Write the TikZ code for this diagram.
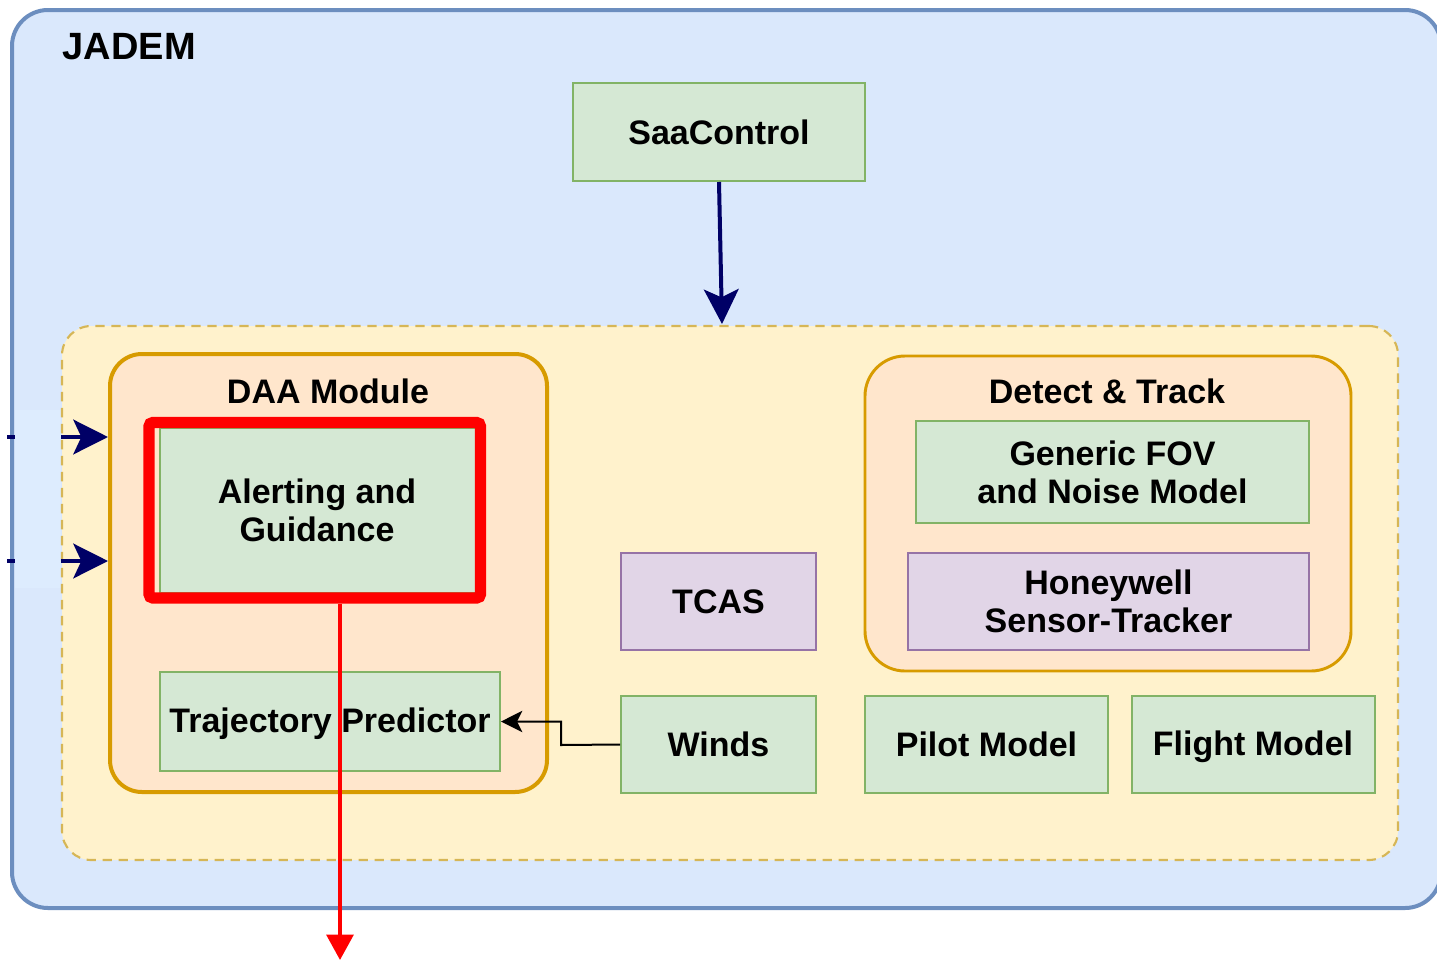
\documentclass[tikz,border=0pt]{standalone}
\usepackage{fontspec}
\setmainfont{Liberation Sans}
\usetikzlibrary{arrows.meta,fit}

\definecolor{outerfill}{HTML}{DAE8FC}
\definecolor{outerline}{HTML}{6C8EBF}
\definecolor{paleblue}{HTML}{DDECFE}
\definecolor{simfill}{HTML}{FFF2CC}
\definecolor{simline}{HTML}{D6B656}
\definecolor{modfill}{HTML}{FFE6CC}
\definecolor{modline}{HTML}{D79B00}
\definecolor{compfill}{HTML}{D5E8D4}
\definecolor{compline}{HTML}{82B366}
\definecolor{extfill}{HTML}{E1D5E7}
\definecolor{extline}{HTML}{9673A6}
\definecolor{navy}{HTML}{000066}

\tikzset{
  lbl/.style={font=\fontsize{25.5}{28.5}\selectfont\bfseries, align=center},
  comp/.style={lbl, draw=compline, fill=compfill, line width=1.5pt, inner sep=0pt},
  ext/.style={lbl, draw=extline, fill=extfill, line width=1.5pt, inner sep=0pt},
  module/.style={draw=modline, fill=modfill, line width=3pt, rounded corners=24pt, inner sep=0pt},
  feed/.style={navy, line width=3pt, -{Stealth[length=26pt, width=26pt, inset=6pt]}},
}

\begin{document}
\begin{tikzpicture}[x=0.75pt, y=-0.75pt]
\useasboundingbox (0,0) rectangle (1437,960);

% outer simulation frame
\node[draw=outerline, fill=outerfill, line width=3pt, rounded corners=27pt,
      inner sep=0pt, fit={(12,10) (1441,908)}] (jadem) {};
\node[font=\fontsize{28.5}{32}\selectfont\bfseries, anchor=west] (jadt) at (58,47) {JADEM};

% incoming links on the left edge
\coordinate (inA) at (7,437);
\coordinate (inAe) at (15,437);
\coordinate (inB) at (7,561);
\coordinate (inBe) at (15,561);
\draw[navy, line width=3.2pt] (inA) -- (inAe);
\draw[navy, line width=3.2pt] (inB) -- (inBe);
\node[fill=paleblue, inner sep=0pt, fit={(15,410) (61,588)}] (gap) {};

% inner dashed container
\node[draw=simline, fill=simfill, line width=1.6pt, dash pattern=on 7pt off 5pt,
      rounded corners=22pt, inner sep=0pt, fit={(62,326) (1398,860)}] (sim) {};

% SaaControl
\node[comp, fit={(573,83) (865,181)}] (saa) {};
\node[lbl] at (saa.center) {SaaControl};

% DAA module
\node[module, fit={(110,354) (547,792)}] (daa) {};
\node[lbl] (daat) at (328,391) {DAA Module};
\node[comp, fit={(160,428) (476,593)}] (alert) {};
\node[lbl] at (317,510) {Alerting and\\Guidance};
\node[draw=red, line width=8.5pt, rounded corners=3pt, inner sep=0pt,
      fit={(149,422.5) (480.5,598)}] (hl) {};
\node[comp, fit={(160,672) (500,771)}] (traj) {};
\node[lbl] at (330,724) {Trajectory Predictor};

% Detect & Track
\node[module, line width=2.2pt, rounded corners=30pt, fit={(865,356) (1351,671)}] (dt) {};
\node[lbl] (dtt) at (1107,391) {Detect \& Track};
\node[comp, fit={(916,421) (1309,523)}] (fov) {};
\node[lbl] at (fov.center) {Generic FOV\\and Noise Model};
\node[ext, fit={(908,553) (1309,650)}] (hon) {};
\node[lbl] at (hon.center) {Honeywell\\Sensor-Tracker};

% other components
\node[ext, fit={(621,553) (816,650)}] (tcas) {};
\node[lbl] at (tcas.center) {TCAS};
\node[comp, fit={(621,696) (816,793)}] (winds) {};
\node[lbl] at (winds.center) {Winds};
\node[comp, fit={(865,696) (1108,793)}] (pilot) {};
\node[lbl] at (pilot.center) {Pilot Model};
\node[comp, fit={(1132,696) (1375,793)}] (flight) {};
\node[lbl] at (1253,747) {Flight Model};

% connectors
\coordinate (saaIn) at (722,324);
\draw[feed] (saa.south) -- (saaIn);
\draw[feed] (gap.east |- inA) -- (daa.west |- inA);
\draw[feed] (gap.east |- inB) -- (daa.west |- inB);
\draw[black, line width=1.5pt, -{Stealth[length=16pt, width=16pt, inset=4pt]}]
  (winds.west) -- (561,745) |- (traj.east);
\coordinate (out) at (340,960);
\draw[red, line width=3pt, -{Stealth[length=19pt, width=20pt, inset=0pt]}]
  (hl.south -| out) -- (out);
\end{tikzpicture}
\end{document}
